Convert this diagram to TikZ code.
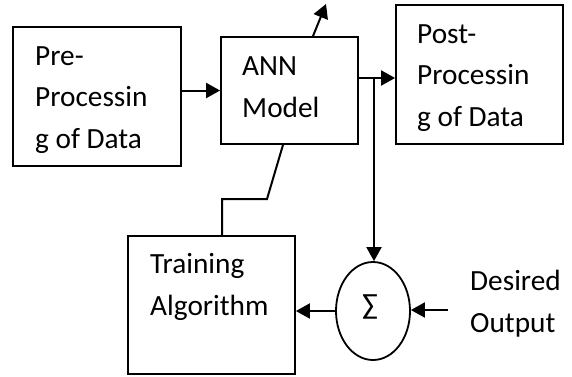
\documentclass[tikz,border=0pt]{standalone}
\usepackage{fontspec}
\setmainfont{Carlito}
\usetikzlibrary{arrows.meta,shapes.geometric}
\begin{document}
\begin{tikzpicture}[x=1pt,y=1pt,
  blk/.style={draw,line width=1.8pt,inner sep=0pt},
  lbl/.style={anchor=base west,align=left,inner sep=0pt,
    font=\fontsize{29.3}{41.5}\selectfont},
  wire/.style={line width=2pt},
  arr/.style={wire,-{Triangle[length=14pt,width=15pt]}}]
\useasboundingbox (0,0) rectangle (572,376);
% blocks
\node[blk,minimum width=168pt,minimum height=139pt] (pre) at (97,279.5) {};
\node[blk,minimum width=137pt,minimum height=107pt] (ann) at (289.5,285.5) {};
\node[blk,minimum width=167pt,minimum height=139pt] (post) at (479.5,301.5) {};
\node[blk,minimum width=167pt,minimum height=138pt] (train) at (211.5,71) {};
\node[draw,line width=1.8pt,ellipse,minimum width=74pt,minimum height=98pt,inner sep=0pt] (sum) at (373,65) {};
% texts (anchored at the baseline of the last line)
\node[lbl] (tpre) at (35,228) {Pre-\\Processin\\g of Data};
\node[lbl] (tann) at (242,259) {ANN\\Model};
\node[lbl] (tpost) at (417,250) {Post-\\Processin\\g of Data};
\node[lbl] (ttrain) at (150,61) {Training\\Algorithm};
\node[lbl] (tdes) at (470,44) {Desired\\Output};
\node[font=\fontsize{29.3}{34}\selectfont,inner sep=0pt] (tsum) at ([xshift=-3pt,yshift=4pt]sum.center) {∑};
% connectors
\coordinate (j) at (374,298);
\coordinate (up) at (326,372);
\coordinate (d) at (448,66);
\draw[arr] (pre.east |- ann.west) -- (ann.west);
\draw[wire] (ann.east |- j) -- (j);
\draw[arr] (j) -- (post.west |- j);
\draw[arr] (j) -- (j |- sum.north);
\draw[arr] ([xshift=23.5pt]ann.north) -- (up);
\draw[arr] (sum.west) -- (train.east |- sum.west);
\draw[arr] (d) -- (sum.east |- d);
\draw[wire] ([xshift=10.5pt]train.north) |- (267,177) -- ([xshift=-6.5pt]ann.south);
\end{tikzpicture}
\end{document}
